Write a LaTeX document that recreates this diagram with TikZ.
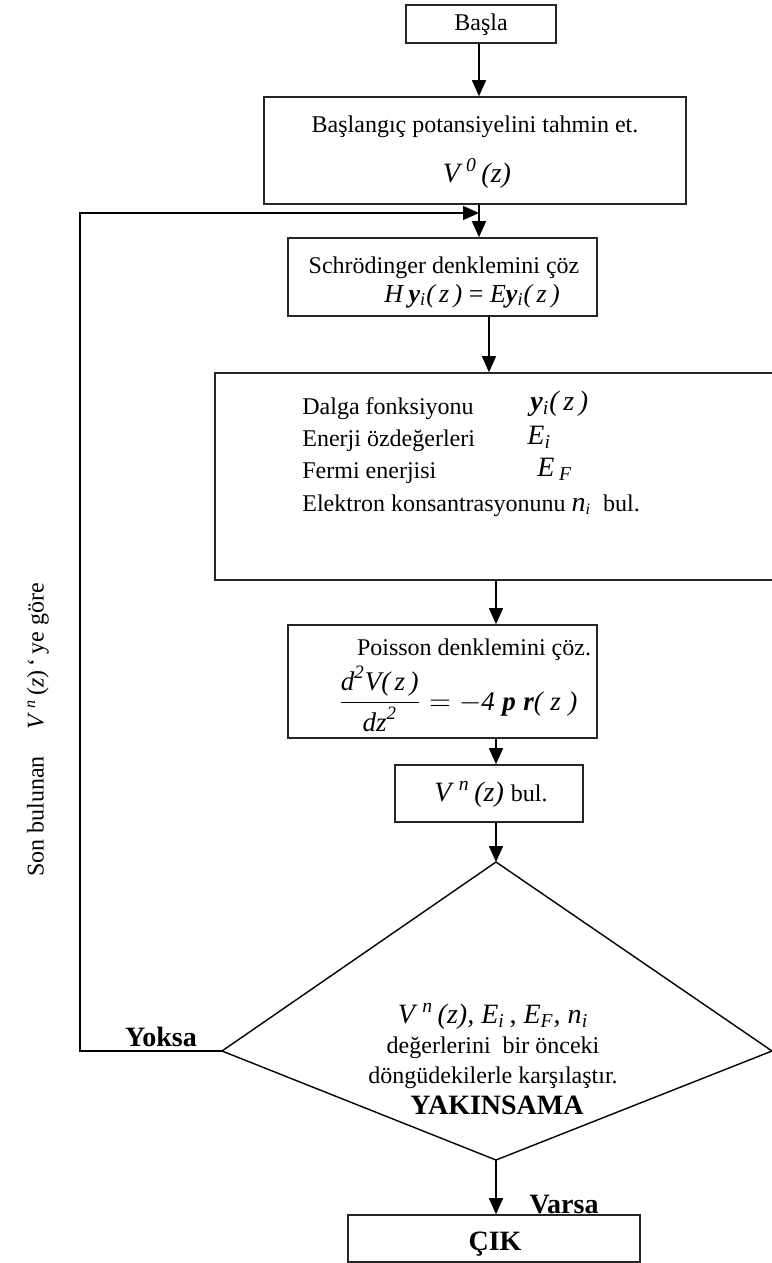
\documentclass[tikz,border=0pt]{standalone}
\usepackage{amsmath}
\usepackage{fontspec}
\setmainfont{Liberation Serif}
\usetikzlibrary{arrows.meta,fit}
\newcommand\iv[1]{\textit{#1}}
\newcommand\bi[1]{\textbf{\textit{#1}}}
\tikzset{
  box/.style={draw=black!85, line width=0.8pt, inner sep=0pt},
  arr/.style={line width=0.7pt, -{Triangle[width=7pt,length=8pt]}},
  ln/.style={line width=0.7pt},
  txt/.style={inner sep=0pt, font=\fontsize{12}{14}\selectfont, anchor=base},
  ltxt/.style={inner sep=0pt, font=\fontsize{12}{14}\selectfont, anchor=base west},
  mtxt/.style={inner sep=0pt, font=\fontsize{14}{16}\selectfont, anchor=base},
  btxt/.style={inner sep=0pt, font=\fontsize{14}{16}\selectfont\bfseries, anchor=base},
}
\begin{document}
\begin{tikzpicture}[x=0.5pt,y=-0.5pt]
\useasboundingbox (0,0) rectangle (771,1263);
% boxes
\node[box, fit={(406,5)(556,43)}] (b1) {};
\node[box, fit={(264,97)(686,204)}] (b2) {};
\node[box, fit={(288,238)(597,316)}] (b3) {};
\node[box, fit={(215,373)(790,580)}] (b4) {};
\node[box, fit={(288,625)(597,738)}] (b5) {};
\node[box, fit={(395,765)(583,822)}] (b6) {};
\node[box, fit={(348,1215)(640,1262)}] (b7) {};
% diamond
\coordinate (dt) at (496,862);
\coordinate (dr) at (772,1051);
\coordinate (db) at (496,1160);
\coordinate (dl) at (222,1051);
\draw[ln] (dt) -- (dr) -- (db) -- (dl) -- cycle;
% helper x-coordinates
\coordinate (x1) at (479,0);
\coordinate (x2) at (489,0);
\coordinate (x3) at (496,0);
\coordinate (lp) at (80,0);
\coordinate (jn) at (479,213);
% connectors
\draw[arr] (b1.south -| x1) -- (b2.north -| x1);
\draw[arr] (b2.south -| x1) -- (b3.north -| x1);
\draw[arr] (b3.south -| x2) -- (b4.north -| x2);
\draw[arr] (b4.south -| x3) -- (b5.north -| x3);
\draw[arr] (b5.south -| x3) -- (b6.north -| x3);
\draw[arr] (b6.south -| x3) -- (dt);
\draw[arr] (db) -- (b7.north -| x3);
\draw[arr] (dl) -- (dl -| lp) -- (jn -| lp) -- (jn);
% texts
\node[txt] (t1) at (481,31) {Başla};
\node[txt] (t2a) at (475,133) {Başlangıç potansiyelini tahmin et.};
\node[mtxt] (t2b) at (477,182) {\iv{V}\textsuperscript{\,\iv{0}}\,\iv{(z)}};
\node[txt] (t3a) at (444,273) {Schrödinger denklemini çöz};
\node[mtxt, font=\fontsize{13}{15}\selectfont] (t3b) at (472,302) {\iv{H}\,\bi{y}\textsubscript{\iv{i}}\iv{(\,z\,)} = \iv{E}\bi{y}\textsubscript{\iv{i}}\iv{(\,z\,)}};
\node[ltxt] (t4a) at (302,414) {Dalga fonksiyonu};
\node[ltxt] (t4b) at (302,446) {Enerji özdeğerleri};
\node[ltxt] (t4c) at (302,478) {Fermi enerjisi};
\node[ltxt] (t4d) at (302,511) {Elektron konsantrasyonunu \iv{\fontsize{14}{16}\selectfont n}\textsubscript{\iv{i}}\ \ bul.};
\node[ltxt, font=\fontsize{14}{16}\selectfont] (m4a) at (530,410) {\bi{y}\textsubscript{\iv{i}}\iv{(\,z\,)}};
\node[ltxt, font=\fontsize{14}{16}\selectfont] (m4b) at (527,444) {\iv{E}\textsubscript{\iv{i}}};
\node[ltxt, font=\fontsize{14}{16}\selectfont] (m4c) at (537,476) {\iv{E}\,\textsubscript{\iv{F}}};
\node[txt] (t5a) at (474,655) {Poisson denklemini çöz.};
\node[inner sep=0pt, anchor=base west, font=\fontsize{13.5}{16}\selectfont] (t5b) at (338,710) {$\dfrac{\text{\itshape d}^{\text{\itshape 2}}\text{\itshape V(\,z\,)}}{\text{\itshape dz}^{\text{\itshape 2}}} = -\text{\itshape 4\;\bfseries p\;r\mdseries(\;z\;)}$};
\node[mtxt] (t6) at (491,801) {\iv{V}\,\textsuperscript{\iv{n}}\,\iv{(z)} \fontsize{12}{14}\selectfont bul.};
\node[mtxt] (t8a) at (493,1023) {\iv{V}\,\textsuperscript{\iv{n}}\,\iv{(z), E}\textsubscript{\iv{i}}\,, \iv{E}\textsubscript{\iv{F}}, \iv{n}\textsubscript{\iv{i}}};
\node[txt] (t8b) at (493,1053) {değerlerini\ \ bir önceki};
\node[txt] (t8c) at (493,1083) {döngüdekilerle karşılaştır.};
\node[btxt] (t8d) at (497,1114) {YAKINSAMA};
\node[btxt] (yk) at (161,1046) {Yoksa};
\node[btxt] (vs) at (564,1213) {Varsa};
\node[btxt] (t7) at (495,1250) {ÇIK};
\node[txt, rotate=90, anchor=center] (side) at (38,730) {Son bulunan\hspace{1.1em}\textit{V}\,\textsuperscript{\iv{n}}\,(\iv{z})\,‘\,ye göre};
\end{tikzpicture}
\end{document}
